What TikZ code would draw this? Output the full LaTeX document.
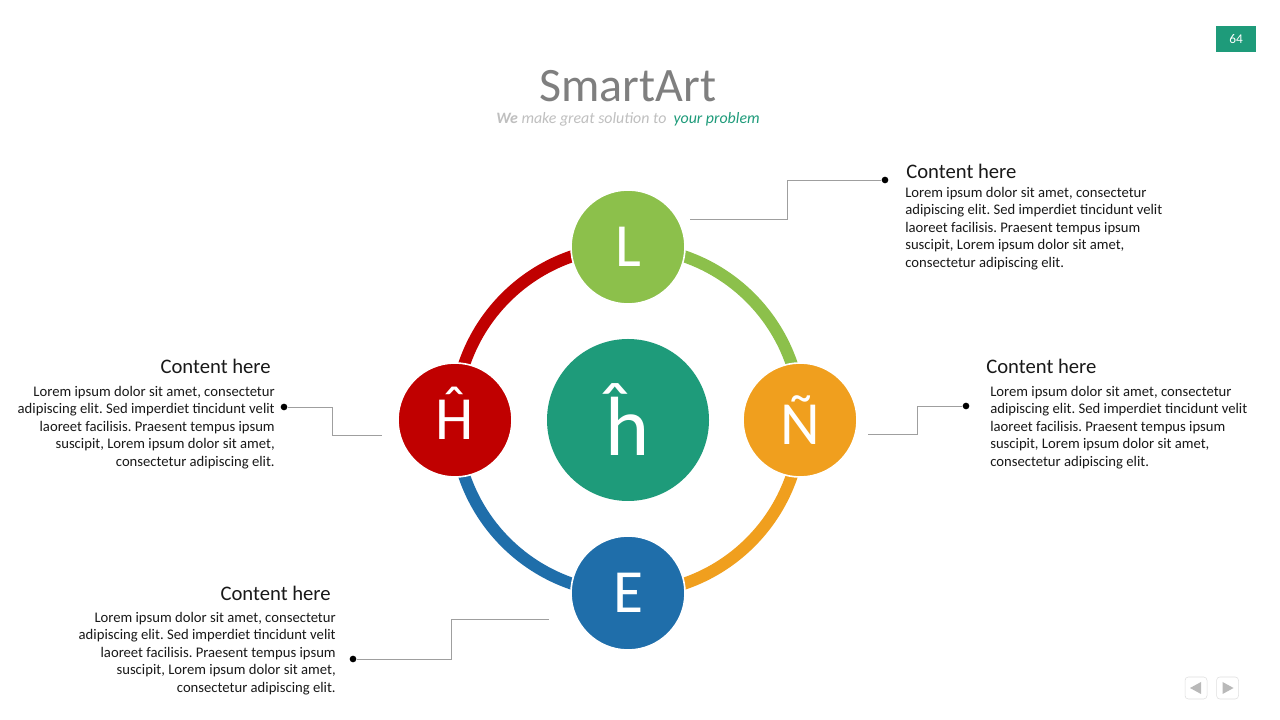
\documentclass[tikz,border=0pt]{standalone}
\usepackage{fontspec}
\setmainfont{Carlito}
\frenchspacing
\usetikzlibrary{positioning,calc}
\definecolor{hubteal}{HTML}{1E9B7A}
\definecolor{lgreen}{HTML}{8CC04B}
\definecolor{lorange}{HTML}{F09F1E}
\definecolor{lred}{HTML}{C00000}
\definecolor{lblue}{HTML}{1F6EAA}
\definecolor{subgrey}{HTML}{BFBFBF}
\definecolor{ttlgrey}{HTML}{7F7F7F}
\newcommand{\hathat}{\ooalign{H\cr\hidewidth\raisebox{0.19em}{\char"02C6}\hidewidth\cr}}
\tikzset{
  ringseg/.style ={line width=9pt},
  bub/.style     ={circle, draw=white, line width=1.2pt, minimum size=85.5pt,
                   inner sep=0pt, text=white, font=\fontsize{46}{46}\selectfont},
  hub/.style     ={circle, fill=hubteal, minimum size=121.5pt, inner sep=0pt,
                   text=white, font=\fontsize{63}{63}\selectfont},
  ttl/.style     ={font=\fontsize{15.5}{18}\selectfont, text=black!90, inner sep=0pt},
  bodytxt/.style ={font=\fontsize{11}{13.1}\selectfont, text=black!90, inner sep=0pt},
  lead/.style    ={draw=gray!75, line width=0.6pt},
  pin/.style     ={circle, fill=black, inner sep=0pt, minimum size=5pt},
  navbtn/.style  ={rectangle, rounded corners=2.5pt, draw=gray!25, fill=white,
                   minimum size=16.5pt, inner sep=0pt}
}

\begin{document}
\begin{tikzpicture}[x=0.75pt,y=0.75pt]
  \useasboundingbox[fill=white] (0,0) rectangle (1280,720);

  % heading
  \node[font=\fontsize{36}{40}\selectfont, text=ttlgrey, anchor=base] (title) at (628,618) {SmartArt};
  \node[font=\fontsize{11.9}{13}\selectfont\itshape, text=subgrey, anchor=base] (subtitle) at (628,596)
       {{\bfseries We} make great solution to~~\textcolor{hubteal}{your problem}};
  \node[fill=hubteal, text=white, minimum width=30pt, minimum height=19.5pt, inner sep=0pt,
        font=\fontsize{10}{11}\selectfont] (pageno) at (1236,680.5) {64};

  % ring
  \node[hub] (hub) at (628,300) {ĥ};
  \draw[ringseg, lred]    (hub.center) ++(180:129.75pt) arc[start angle=180, end angle=90,   radius=129.75pt];
  \draw[ringseg, lgreen]  (hub.center) ++(90:129.75pt)  arc[start angle=90,  end angle=0,    radius=129.75pt];
  \draw[ringseg, lorange] (hub.center) ++(0:129.75pt)   arc[start angle=0,   end angle=-90,  radius=129.75pt];
  \draw[ringseg, lblue]   (hub.center) ++(-90:129.75pt) arc[start angle=-90, end angle=-180, radius=129.75pt];

  \node[bub, fill=lgreen]  (top)   at (628,473) {L};
  \node[bub, fill=lorange] (right) at (800,300) {Ñ};
  \node[bub, fill=lblue]   (bot)   at (628,127) {E};
  \node[bub, fill=lred]    (left)  at (455,300) {\hathat};

  % top right block
  \node[ttl, anchor=base west] (trtitle) at (906,541) {Content here};
  \node[bodytxt, align=left, anchor=north west] (trbody) at (905,533)
       {Lorem ipsum dolor sit amet, consectetur\\adipiscing elit. Sed imperdiet tincidunt velit\\laoreet facilisis. Praesent tempus ipsum\\suscipit, Lorem ipsum dolor sit amet,\\consectetur adipiscing elit.};
  \node[pin] (trpin) at (885,540) {};
  \coordinate (trknee) at (787,501);
  \coordinate (trend) at (690,501);
  \draw[lead] (trpin) -| (trknee) -- (trend);

  % left block
  \node[ttl, anchor=base east] (ltitle) at (271,346) {Content here};
  \node[bodytxt, align=right, anchor=north east] (lbody) at (275,334)
       {Lorem ipsum dolor sit amet, consectetur\\adipiscing elit. Sed imperdiet tincidunt velit\\laoreet facilisis. Praesent tempus ipsum\\suscipit, Lorem ipsum dolor sit amet,\\consectetur adipiscing elit.};
  \node[pin] (lpin) at (284,313) {};
  \coordinate (lknee) at (332,285);
  \coordinate (lend) at (382,285);
  \draw[lead] (lpin) -| (lknee) -- (lend);

  % right block
  \node[ttl, anchor=base west] (rtitle) at (986,346) {Content here};
  \node[bodytxt, align=left, anchor=north west] (rbody) at (990,334)
       {Lorem ipsum dolor sit amet, consectetur\\adipiscing elit. Sed imperdiet tincidunt velit\\laoreet facilisis. Praesent tempus ipsum\\suscipit, Lorem ipsum dolor sit amet,\\consectetur adipiscing elit.};
  \node[pin] (rpin) at (966,314) {};
  \coordinate (rknee) at (917,286);
  \coordinate (rend) at (868,286);
  \draw[lead] (rpin) -| (rknee) -- (rend);

  % bottom left block
  \node[ttl, anchor=base east] (btitle) at (331,119) {Content here};
  \node[bodytxt, align=right, anchor=north east] (bbody) at (336,108)
       {Lorem ipsum dolor sit amet, consectetur\\adipiscing elit. Sed imperdiet tincidunt velit\\laoreet facilisis. Praesent tempus ipsum\\suscipit, Lorem ipsum dolor sit amet,\\consectetur adipiscing elit.};
  \node[pin] (bpin) at (353,61) {};
  \coordinate (bknee) at (451,101);
  \coordinate (bend) at (549,101);
  \draw[lead] (bpin) -| (bknee) -- (bend);

  % navigation
  \node[navbtn] (prev) at (1196,32) {};
  \node[navbtn, right=6.75pt of prev] (next) {};
  \fill[gray!55] ($(prev.center)+(-6,0)$) -- ($(prev.center)+(5,6)$) -- ($(prev.center)+(5,-6)$) -- cycle;
  \fill[gray!55] ($(next.center)+(6,0)$) -- ($(next.center)+(-5,6)$) -- ($(next.center)+(-5,-6)$) -- cycle;
\end{tikzpicture}
\end{document}
